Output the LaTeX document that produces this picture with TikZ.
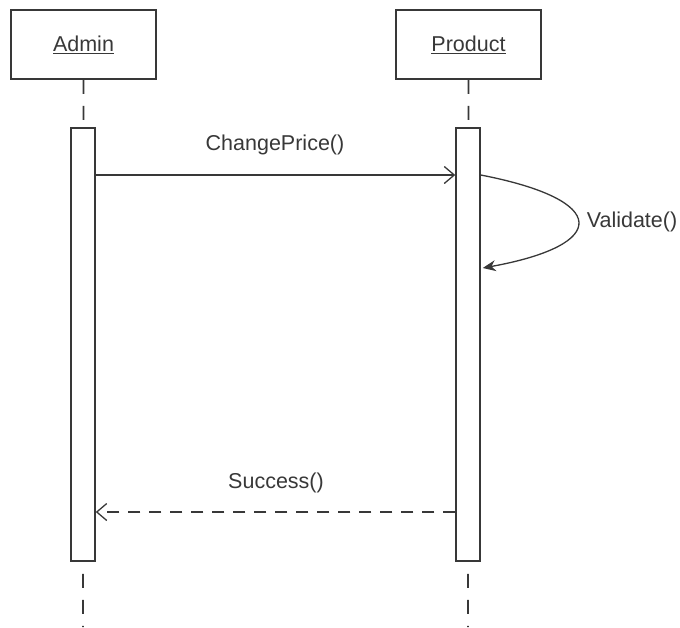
\documentclass[tikz,border=0pt]{standalone}
\usepackage{fontspec}
\setmainfont{Liberation Sans}
\usetikzlibrary{arrows.meta}
\definecolor{ink}{HTML}{383838}
\begin{document}
\begin{tikzpicture}[x=1pt,y=-1pt,
  font=\fontsize{21.5}{25}\selectfont, text=ink,
  objbox/.style={draw=ink, line width=1.8pt, minimum width=145pt, minimum height=69pt, inner sep=0pt},
  actbar/.style={draw=ink, line width=1.5pt, fill=white, minimum width=24pt, minimum height=433pt, inner sep=0pt},
  lifeline/.style={draw=ink, line width=1.8pt, dash pattern=on 14pt off 12pt},
  call/.style={draw=ink, line width=1.3pt, -{Straight Barb[length=10pt,width=17pt,line width=1.3pt]}},
  reply/.style={call, dash pattern=on 12pt off 9pt},
  selfcall/.style={draw=ink, line width=1.3pt, -{Stealth[length=13pt,width=11pt]}},
  msg/.style={inner sep=0pt}]
  \useasboundingbox (0,0) rectangle (680,627);

  % objects
  \node[objbox] (admin) at (83.5,44.5) {\underline{Admin}};
  \node[objbox] (product) at (468.5,44.5) {\underline{Product}};

  % lifelines
  \coordinate (adminend) at (83,627);
  \coordinate (productend) at (468,627);
  \draw[lifeline] (admin.south) -- (adminend);
  \draw[lifeline] (product.south) -- (productend);

  % activation bars
  \node[actbar, anchor=north] (adminbar) at (83,127) {};
  \node[actbar, anchor=north] (productbar) at (468,127) {};

  % message anchor points
  \coordinate (c1s) at (adminbar.east |- 0,175);
  \coordinate (c1e) at (productbar.west |- 0,175);
  \coordinate (v1s) at (productbar.east |- 0,175);
  \coordinate (v1e) at ([xshift=2pt]productbar.east |- 0,268);
  \coordinate (r1s) at (productbar.west |- 0,512);
  \coordinate (r1e) at (adminbar.east |- 0,512);

  % messages
  \draw[call] (c1s) -- (c1e);
  \node[msg] (l1) at (275,145) {ChangePrice()};

  \draw[selfcall] (v1s) .. controls (610,200) and (610,245) .. (v1e);
  \node[msg] (l2) at (632,222) {Validate()};

  \draw[reply] (r1s) -- (r1e);
  \node[msg] (l3) at (276,483) {Success()};
\end{tikzpicture}
\end{document}
